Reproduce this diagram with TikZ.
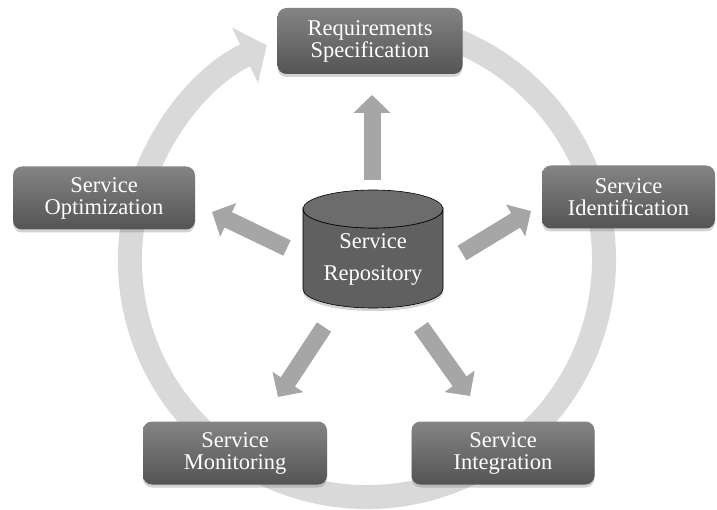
\documentclass[tikz,border=0pt]{standalone}
\usepackage{fontspec}
\setmainfont{Liberation Serif}
\usetikzlibrary{arrows.meta,shadows}
\definecolor{ringgray}{RGB}{217,217,217}
\definecolor{arrowgray}{RGB}{166,166,166}
\definecolor{boxtop}{RGB}{132,132,132}
\definecolor{boxbot}{RGB}{84,84,84}
\definecolor{cylbody}{RGB}{96,96,96}
\definecolor{cyltop}{RGB}{108,108,108}
\tikzset{
  stagebox/.style={rounded corners=9pt, top color=boxtop, bottom color=boxbot,
    text=white, align=center, inner sep=0pt, minimum height=63pt,
    font=\fontsize{22.5}{22}\selectfont,
    drop shadow={shadow xshift=0pt, shadow yshift=-3pt, opacity=0.35}},
  blockarrow/.style={draw=arrowgray, line width=17pt,
    -{Triangle[width=36pt,length=18pt]}},
  ringarrow/.style={draw=ringgray, line width=24pt,
    -{Triangle[width=60pt,length=24pt]}}
}
\begin{document}
\begin{tikzpicture}[x=1pt,y=-1pt]
\useasboundingbox (0,0) rectangle (717,510);
% circular process ring
\draw[ringarrow] (428.3,31.1) arc[start angle=-75, end angle=245, radius=237];
% central repository (cylinder)
\path[fill=cylbody, draw=black, line width=0.6pt,
  drop shadow={shadow xshift=0pt, shadow yshift=-3pt, opacity=0.35}]
  (303,209) -- (303,289) arc[start angle=180, end angle=0, x radius=70, y radius=19]
  -- (443,209) arc[start angle=0, end angle=180, x radius=70, y radius=19] -- cycle;
\path[fill=cyltop, draw=black, line width=0.6pt] (373,209) ellipse [x radius=70, y radius=19];
\node[text=white, align=center, font=\fontsize{22.5}{32}\selectfont] (repo) at (373,259) {Service\\Repository};
% stage boxes
\node[stagebox, minimum width=185pt, minimum height=66pt] (req) at (370,41) {Requirements\\Specification};
\node[stagebox, minimum width=182pt] (opt) at (104,198) {Service\\Optimization};
\node[stagebox, minimum width=173pt] (ident) at (628.5,197) {Service\\Identification};
\node[stagebox, minimum width=184pt] (mon) at (235,453) {Service\\Monitoring};
\node[stagebox, minimum width=183pt] (integ) at (503,453) {Service\\Integration};
% arrow end points
\coordinate (upT) at (372,180);  \coordinate (upH) at (372,95);
\coordinate (lfT) at (287,248);  \coordinate (lfH) at (212,212);
\coordinate (rtT) at (462,253);  \coordinate (rtH) at (531,211);
\coordinate (dlT) at (324,327);  \coordinate (dlH) at (278,397);
\coordinate (drT) at (421,327);  \coordinate (drH) at (470,396);
\draw[blockarrow] (upT) -- (upH);
\draw[blockarrow] (lfT) -- (lfH);
\draw[blockarrow] (rtT) -- (rtH);
\draw[blockarrow] (dlT) -- (dlH);
\draw[blockarrow] (drT) -- (drH);
\end{tikzpicture}
\end{document}
